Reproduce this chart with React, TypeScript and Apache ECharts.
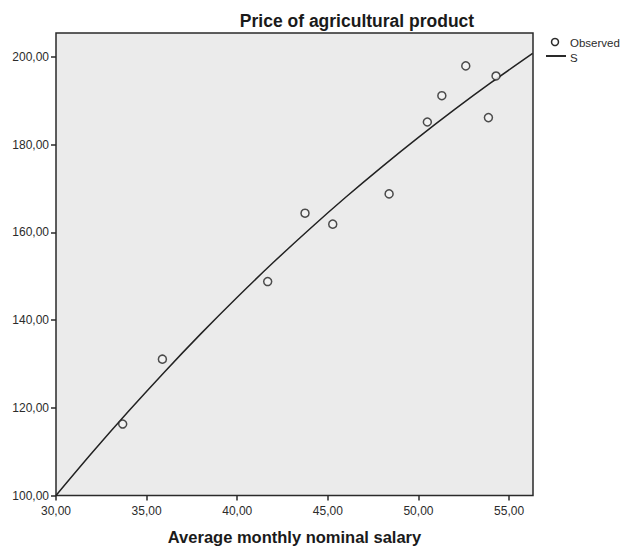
import React, { useEffect, useRef } from "react";
import * as echarts from "echarts";

const salary = [33.68, 35.87, 41.68, 43.74, 45.27, 48.38, 50.49, 51.29, 52.61, 53.86, 54.28];
const price = [116.3, 131.1, 148.8, 164.4, 161.9, 168.8, 185.2, 191.2, 198.0, 186.2, 195.7];

const fitX = [30, 32, 34, 36, 38, 40, 42, 44, 46, 48, 50, 52, 54, 56.3];
const fitY = [100.0, 109.79, 119.2, 128.25, 136.93, 145.24, 153.19, 160.8, 168.08, 175.03, 181.69, 188.06, 194.16, 200.85];

const xTicks = [30, 35, 40, 45, 50, 55];
const yTicks = [100, 120, 140, 160, 180, 200];

const fmt = (v: number) => v.toFixed(2).replace(".", ",");
const FONT = "Liberation Sans, Arial, sans-serif";

export default function App() {
  const ref = useRef<HTMLDivElement>(null);
  useEffect(() => {
    const chart = echarts.init(ref.current!, null, { renderer: "svg" });
    chart.setOption({
      animation: false,
      backgroundColor: "#ffffff",
      grid: {
        left: 56,
        right: 94,
        top: 33,
        bottom: 52.5,
        containLabel: false,
        outerBoundsMode: "none",
        show: true,
        backgroundColor: "#ebebeb",
        borderColor: "#2a2a2a",
        borderWidth: 1.5,
      },
      xAxis: {
        type: "value",
        min: 30,
        max: 56.32,
        interval: 5,
        splitLine: { show: false },
        axisLine: { show: false },
        axisTick: { show: true, length: 5, lineStyle: { color: "#2a2a2a", width: 1.5 }, customValues: xTicks },
        axisLabel: {
          customValues: xTicks,
          formatter: (v: number) => fmt(v),
          color: "#2b2b2b",
          fontSize: 12,
          fontFamily: FONT,
          margin: 9,
        },
        name: "Average monthly nominal salary",
        nameLocation: "middle",
        nameGap: 33,
        nameTextStyle: { fontSize: 16.5, fontWeight: "bold", color: "#1a1a1a", fontFamily: FONT },
      },
      yAxis: {
        type: "value",
        min: 100,
        max: 205.5,
        interval: 20,
        splitLine: { show: false },
        axisLine: { show: false },
        axisTick: { show: true, length: 5, lineStyle: { color: "#2a2a2a", width: 1.5 }, customValues: yTicks },
        axisLabel: {
          customValues: yTicks,
          formatter: (v: number) => fmt(v),
          color: "#2b2b2b",
          fontSize: 12,
          fontFamily: FONT,
          margin: 7,
        },
      },
      graphic: [
        {
          type: "text",
          x: 357,
          y: 21,
          style: {
            text: "Price of agricultural product",
            fontSize: 17.5,
            fontWeight: "bold",
            fontFamily: FONT,
            fill: "#1a1a1a",
            align: "center",
            verticalAlign: "middle",
          },
        },
        {
          type: "circle",
          shape: { cx: 555, cy: 42, r: 3.5 },
          style: { fill: "#ffffff", stroke: "#2a2a2a", lineWidth: 1.5 },
        },
        {
          type: "text",
          x: 570,
          y: 43,
          style: { text: "Observed", fontSize: 11.5, fontFamily: FONT, fill: "#2b2b2b", verticalAlign: "middle" },
        },
        {
          type: "line",
          shape: { x1: 546, y1: 56, x2: 566, y2: 56 },
          style: { stroke: "#2a2a2a", lineWidth: 2 },
        },
        {
          type: "text",
          x: 570,
          y: 58,
          style: { text: "S", fontSize: 11.5, fontFamily: FONT, fill: "#2b2b2b", verticalAlign: "middle" },
        },
      ],
      series: [
        {
          type: "line",
          name: "S",
          data: fitX.map((x, i) => [x, fitY[i]]),
          smooth: 0.3,
          showSymbol: false,
          lineStyle: { color: "#222", width: 1.5 },
          z: 2,
        },
        {
          type: "scatter",
          name: "Observed",
          data: salary.map((x, i) => [x, price[i]]),
          symbol: "circle",
          symbolSize: 8,
          itemStyle: { color: "#f4f4f4", borderColor: "#222", borderWidth: 1.5 },
          z: 3,
        },
      ],
    });
    return () => chart.dispose();
  }, []);
  return <div ref={ref} style={{ width: 627, height: 548, position: "absolute", left: 0, top: 0 }} />;
}
